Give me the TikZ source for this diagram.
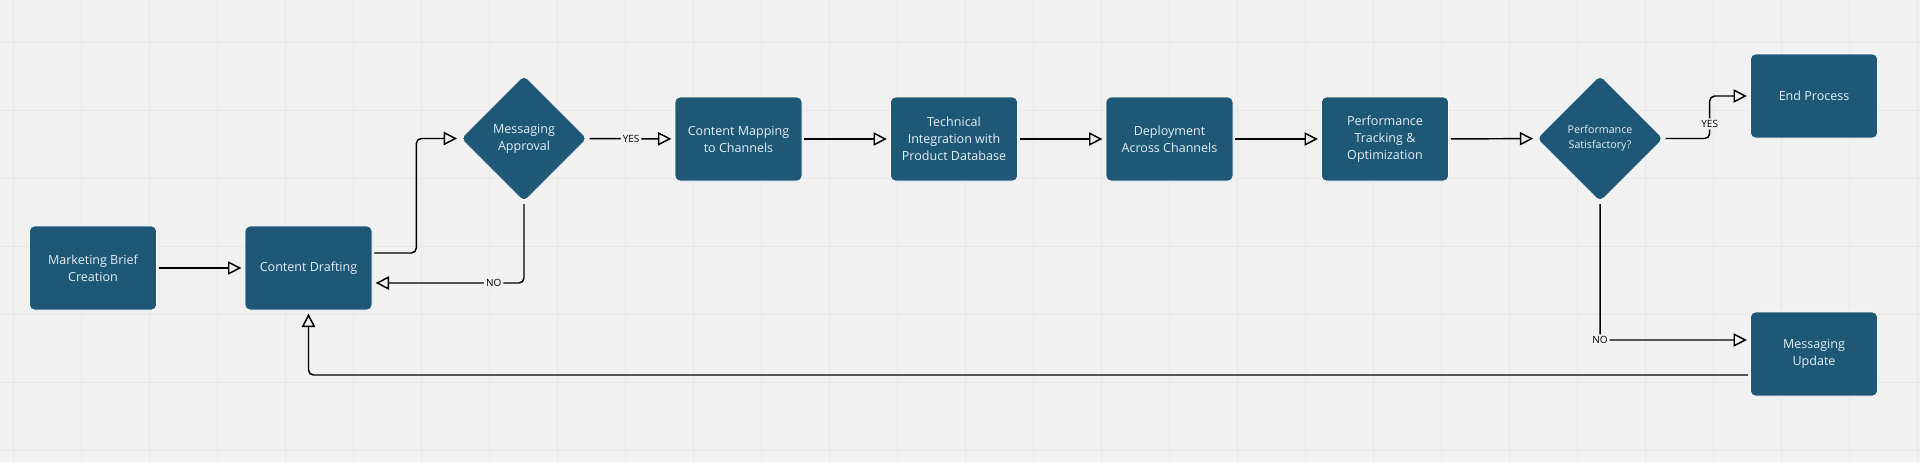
\documentclass[tikz,border=0pt]{standalone}
\usepackage{fontspec}
\setmainfont{Open Sans}
\usetikzlibrary{shapes.geometric}
\usetikzlibrary{arrows.meta}

\definecolor{boardbg}{HTML}{F1F1F1}
\definecolor{gridgray}{HTML}{E8E8E8}
\definecolor{boxblue}{HTML}{1F5777}
\definecolor{boxtext}{HTML}{E3EFF6}

\begin{document}
\begin{tikzpicture}[x=0.75pt, y=-0.75pt]

\tikzstyle{every node}=[font=\fontsize{9.4}{12.75}\selectfont]
\tikzstyle{stepbox}=[fill=boxblue, text=boxtext, draw=white, line width=0.5pt,
	rounded corners=3.75pt, minimum width=95.25pt, minimum height=63pt,
	align=center, inner sep=2pt]
\tikzstyle{decision}=[stepbox, diamond, minimum width=95pt,
	minimum height=95pt, inner sep=0pt]
\tikzstyle{flow}=[-{Triangle[open, length=10pt, width=10pt]},
	line width=1.1pt, rounded corners=3.75pt, shorten >=2.5pt, shorten <=1.5pt]
\tikzstyle{answer}=[fill=boardbg, inner sep=1.5pt, font=\fontsize{7.5}{8}\selectfont]

\useasboundingbox (0,0) rectangle (1920,462);
\fill[boardbg] (0,0) rectangle (1920,462);
\draw[gridgray, line width=0.6pt, step=51pt, shift={(13,42)}] (-13,-42) grid (1907,420);

\node (brief) at (93,268) [stepbox] {Marketing Brief\\Creation};
\node (drafting) at (308.5,268) [stepbox] {Content Drafting};
\node (approval) at (524,138.5) [decision] {Messaging\\Approval};
\node (mapping) at (738.5,139) [stepbox] {Content Mapping\\to Channels};
\node (integration) at (954,139) [stepbox] {Technical\\Integration with\\Product Database};
\node (deployment) at (1169.5,139) [stepbox] {Deployment\\Across Channels};
\node (tracking) at (1385,139) [stepbox] {Performance\\Tracking \&\\Optimization};
\node (satisfied) at (1600,138.5) [decision, font=\fontsize{8}{11}\selectfont]
	{Performance\\Satisfactory?};
\node (endproc) at (1814,96) [stepbox] {End Process};
\node (update) at (1814,354) [stepbox] {Messaging\\Update};

\draw[flow] (brief) -- (drafting);
\draw[flow] ([yshift=11.25pt]drafting.east) -- ++(44,0) |- (approval.west);
\draw[flow] (approval.south) |- ([yshift=-11.25pt]drafting.east)
	node [answer, pos=0.6] {NO};
\draw[flow] (approval) -- node [answer] {YES} (mapping);
\draw[flow] (mapping) -- (integration);
\draw[flow] (integration) -- (deployment);
\draw[flow] (deployment) -- (tracking);
\draw[flow] (tracking) -- (satisfied);
\draw[flow] (satisfied.east) -- ++(46,0) |- node [answer, pos=0.17] {YES} (endproc.west);
\draw[flow] (satisfied.south) |- node [answer] {NO} ([yshift=10.5pt]update.west);
\draw[flow] ([yshift=-15.75pt]update.west) -| (drafting.south);

\end{tikzpicture}
\end{document}
